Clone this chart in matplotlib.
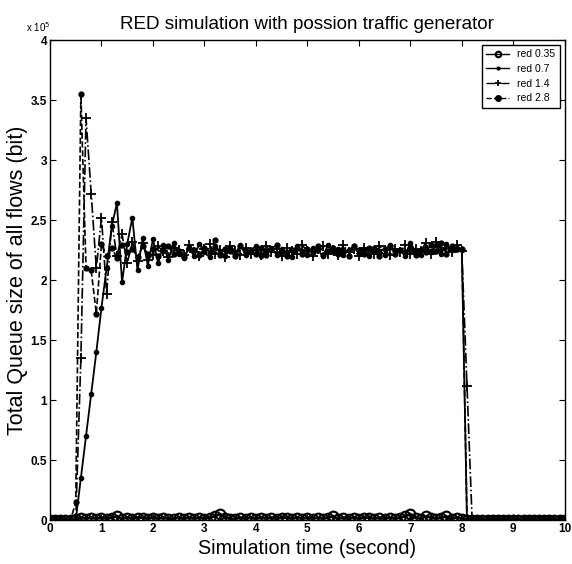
import numpy as np
import matplotlib
matplotlib.use("Agg")
import matplotlib.pyplot as plt

plt.rcParams['font.family'] = ['Liberation Sans', 'DejaVu Sans']

# sample times (s)
time_s = np.round(np.arange(0, 10.05, 0.1), 1)

# total queue size, in units of 1e5 bit
red_035 = [0, 0, 0, 0, 0,
           0.01, 0.02, 0.01, 0.02, 0.01,
           0.02, 0.01, 0.02, 0.03, 0.01, 0.02, 0.01, 0.02, 0.02, 0.01,
           0.02, 0.01, 0.02, 0.01, 0.01, 0.02, 0.01, 0.02, 0.01, 0.02,
           0.01, 0.02, 0.03, 0.05, 0.02, 0.01, 0.01, 0.02, 0.01, 0.02,
           0.01, 0.02, 0.01, 0.02, 0.01, 0.02, 0.02, 0.01, 0.02, 0.01,
           0.02, 0.01, 0.02, 0.01, 0.02, 0.03, 0.01, 0.02, 0.01, 0.02,
           0.01, 0.02, 0.02, 0.01, 0.02, 0.01, 0.02, 0.01, 0.02, 0.03,
           0.05, 0.02, 0.01, 0.03, 0.02, 0.01, 0.02, 0.03, 0.01, 0.02,
           0.01, 0, 0, 0, 0, 0, 0, 0, 0, 0,
           0, 0, 0, 0, 0, 0, 0, 0, 0, 0, 0]

red_07 = [0, 0, 0, 0, 0,
          0.0, 0.35, 0.70, 1.05, 1.40,
          1.77, 2.10, 2.45, 2.64, 1.98, 2.30, 2.52, 2.08, 2.35, 2.12,
          2.34, 2.14, 2.29, 2.17, 2.31, 2.22, 2.18, 2.27, 2.20, 2.30,
          2.23, 2.19, 2.28, 2.24, 2.20, 2.27, 2.22, 2.29, 2.21, 2.25,
          2.28, 2.20, 2.24, 2.27, 2.21, 2.26, 2.23, 2.19, 2.28, 2.24,
          2.21, 2.27, 2.25, 2.20, 2.29, 2.23, 2.26, 2.21, 2.25, 2.28,
          2.22, 2.26, 2.20, 2.27, 2.24, 2.21, 2.29, 2.23, 2.25, 2.20,
          2.31, 2.24, 2.21, 2.27, 2.23, 2.29, 2.22, 2.30, 2.25, 2.27,
          2.25, 0, 0, 0, 0, 0, 0, 0, 0, 0,
          0, 0, 0, 0, 0, 0, 0, 0, 0, 0, 0]

red_14 = [0, 0, 0, 0, 0,
          0.0, 1.35, 3.35, 2.72, 2.10,
          2.52, 1.88, 2.48, 2.20, 2.38, 2.14, 2.32, 2.16, 2.31, 2.17,
          2.21, 2.28, 2.24, 2.19, 2.27, 2.25, 2.21, 2.29, 2.23, 2.20,
          2.26, 2.30, 2.22, 2.25, 2.19, 2.28, 2.24, 2.21, 2.27, 2.22,
          2.25, 2.21, 2.28, 2.23, 2.26, 2.20, 2.27, 2.24, 2.22, 2.29,
          2.24, 2.20, 2.26, 2.28, 2.22, 2.25, 2.21, 2.29, 2.23, 2.26,
          2.20, 2.27, 2.24, 2.22, 2.28, 2.25, 2.21, 2.26, 2.23, 2.29,
          2.22, 2.26, 2.24, 2.31, 2.22, 2.32, 2.25, 2.27, 2.23, 2.29,
          2.24, 1.12, 0, 0, 0, 0, 0, 0, 0, 0,
          0, 0, 0, 0, 0, 0, 0, 0, 0, 0, 0]

red_28 = [0, 0, 0, 0, 0,
          0.15, 3.55, 2.10, 2.08, 1.72,
          2.30, 2.20, 2.27, 2.18, 2.29, 2.23, 2.26, 2.19, 2.28, 2.22,
          2.26, 2.20, 2.25, 2.28, 2.22, 2.24, 2.19, 2.27, 2.25, 2.21,
          2.27, 2.23, 2.33, 2.21, 2.26, 2.24, 2.20, 2.28, 2.23, 2.25,
          2.22, 2.27, 2.21, 2.26, 2.29, 2.23, 2.20, 2.25, 2.27, 2.22,
          2.26, 2.23, 2.28, 2.21, 2.24, 2.27, 2.22, 2.25, 2.20, 2.28,
          2.25, 2.22, 2.27, 2.24, 2.20, 2.26, 2.28, 2.22, 2.25, 2.23,
          2.27, 2.21, 2.25, 2.23, 2.29, 2.24, 2.31, 2.22, 2.28, 2.26,
          2.26, 0, 0, 0, 0, 0, 0, 0, 0, 0,
          0, 0, 0, 0, 0, 0, 0, 0, 0, 0, 0]

labels = ['red 0.35', 'red 0.7', 'red 1.4', 'red 2.8']
x_ticks = [0, 1, 2, 3, 4, 5, 6, 7, 8, 9, 10]
y_ticks = [0, 0.5, 1, 1.5, 2, 2.5, 3, 3.5, 4]
y_tick_labels = ['0', '0.5', '1', '1.5', '2', '2.5', '3', '3.5', '4']

fig = plt.figure(figsize=(5.72, 5.64), dpi=100, facecolor='white')
ax = fig.add_axes([0.0874, 0.078, 0.900, 0.851])

ax.plot(time_s, red_035, '-o', color='black', lw=2.0, ms=7, mfc='none', mew=1.5, label=labels[0])
ax.plot(time_s, red_07, '-', marker='.', color='black', lw=1.3, ms=6, label=labels[1])
ax.plot(time_s, red_14, '-.', marker='+', color='black', lw=1.2, ms=7, mew=1.3, label=labels[2])
ax.plot(time_s, red_28, '--', marker='o', color='black', lw=1.2, ms=3.5, label=labels[3])

ax.set_xlim(0, 10)
ax.set_ylim(0, 4)
ax.set_xticks(x_ticks)
ax.set_yticks(y_ticks)
ax.set_yticklabels(y_tick_labels)
ax.tick_params(direction='in', top=True, right=True, length=4, width=0.8,
               labelsize=8.5, pad=2)
for lbl in ax.get_xticklabels() + ax.get_yticklabels():
    lbl.set_fontweight('bold')
for s in ax.spines.values():
    s.set_linewidth(1.0)

ax.text(0.0, 1.012, r'x 10$^5$', transform=ax.transAxes, ha='right', va='bottom',
        fontsize=7)
ax.set_title('RED simulation with possion traffic generator', fontsize=13.6, pad=8)
ax.set_xlabel('Simulation time (second)', fontsize=14.2, labelpad=3)
ax.set_ylabel('Total Queue size of all flows (bit)', fontsize=15.5, labelpad=2)

leg = ax.legend(loc='upper right', fontsize=7.5, frameon=True, fancybox=False,
                edgecolor='black', framealpha=1, handlelength=2.2,
                borderaxespad=0.5, labelspacing=0.45, borderpad=0.4)
leg.get_frame().set_linewidth(1.0)
for h in leg.get_lines():
    h.set_linewidth(1.0)
    h.set_markersize(4)

fig.savefig('out.png', dpi=100)
